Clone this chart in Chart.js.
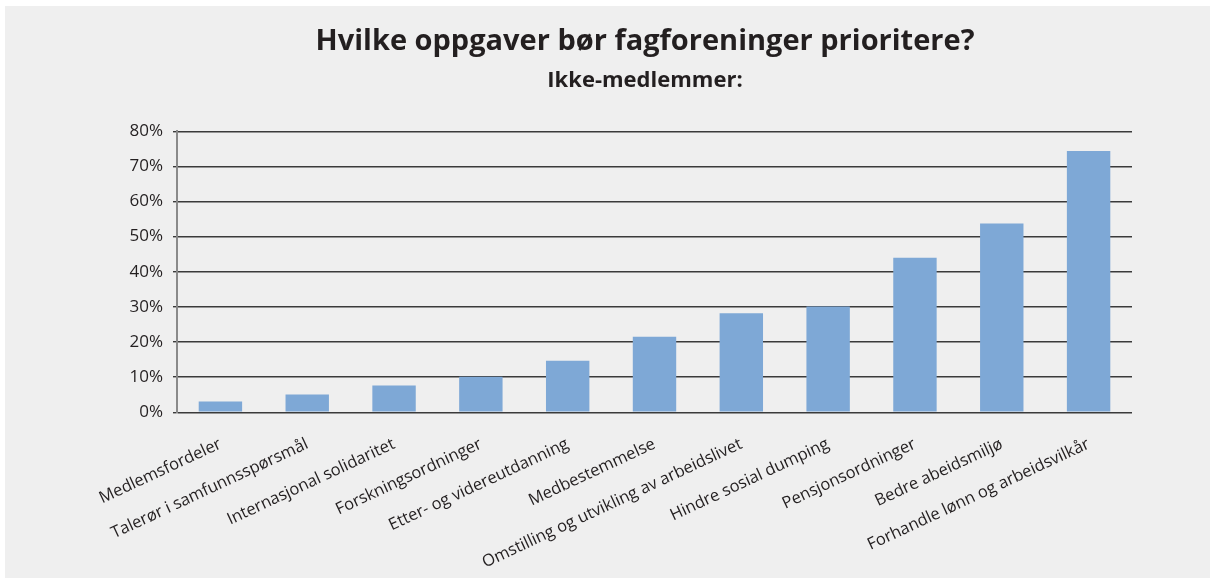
<!DOCTYPE html>
<html>
<head>
<meta charset="utf-8">
<script src="https://cdn.jsdelivr.net/npm/chart.js@4"></script>
<style>
  html, body { margin: 0; padding: 0; background: #ffffff; }
  #panel { position: absolute; left: 5px; top: 6px; width: 1205px; height: 572px; background: #efefef; }
</style>
</head>
<body>
<div id="panel"><canvas id="prioChart" width="1205" height="572"></canvas></div>
<script>
// ===== DATA =====
const categories = [
  'Medlemsfordeler',
  'Talerør i samfunnsspørsmål',
  'Internasjonal solidaritet',
  'Forskningsordninger',
  'Etter- og videreutdanning',
  'Medbestemmelse',
  'Omstilling og utvikling av arbeidslivet',
  'Hindre sosial dumping',
  'Pensjonsordninger',
  'Bedre abeidsmiljø',
  'Forhandle lønn og arbeidsvilkår'
];
const shares = [3.1, 5.1, 7.6, 10.1, 14.7, 21.5, 28.2, 30.1, 44.0, 53.7, 74.4];
const yTicks = [0, 10, 20, 30, 40, 50, 60, 70, 80];

const TEXT = '#231f20';
const FONT = "'Open Sans', 'DejaVu Sans', sans-serif";

// an empty right-hand axis takes some of the right margin so the title sits over the plot, like the original
new Chart(document.getElementById('prioChart'), {
  type: 'bar',
  data: {
    labels: categories,
    datasets: [{
      data: shares,
      backgroundColor: '#7ea8d6',
      borderWidth: 0,
      categoryPercentage: 1,
      barPercentage: 0.5,
    }]
  },
  options: {
    responsive: false,
    animation: false,
    layout: { padding: { left: 122, right: 47, top: 0, bottom: 0 } },
    plugins: {
      legend: { display: false },
      tooltip: { enabled: false },
      title: {
        display: true,
        text: 'Hvilke oppgaver bør fagforeninger prioritere?',
        color: TEXT,
        font: { family: FONT, size: 29, weight: 'bold' },
        padding: { top: 18, bottom: 0 }
      },
      subtitle: {
        display: true,
        text: 'Ikke-medlemmer:',
        color: TEXT,
        font: { family: FONT, size: 22, weight: 'bold' },
        padding: { top: 9, bottom: 37 }
      }
    },
    scales: {
      x: {
        grid: { display: false, drawTicks: false, tickLength: 0 },
        border: { display: false },
        ticks: {
          color: TEXT,
          font: { family: FONT, size: 16.5 },
          autoSkip: false,
          maxRotation: 25,
          minRotation: 25,
          padding: 22
        },
        afterFit: s => { s.height = 165.7; }
      },
      y: {
        min: 0,
        max: 80,
        afterBuildTicks: s => { s.ticks = yTicks.map(v => ({ value: v })); },
        grid: { color: '#3a3a3a', lineWidth: 1.4, tickLength: 4, tickColor: '#3a3a3a' },
        border: { display: true, color: '#8a8a8a', width: 2 },
        ticks: {
          color: TEXT,
          font: { family: FONT, size: 17 },
          padding: 10,
          callback: v => v + '%'
        },
        afterFit: s => { s.width = 50; }
      },
      yRight: {
        position: 'right',
        min: 0,
        max: 80,
        grid: { display: false },
        border: { display: false },
        ticks: { display: false },
        afterFit: s => { s.width = 31; }
      }
    }
  }
});
</script>
</body>
</html>
